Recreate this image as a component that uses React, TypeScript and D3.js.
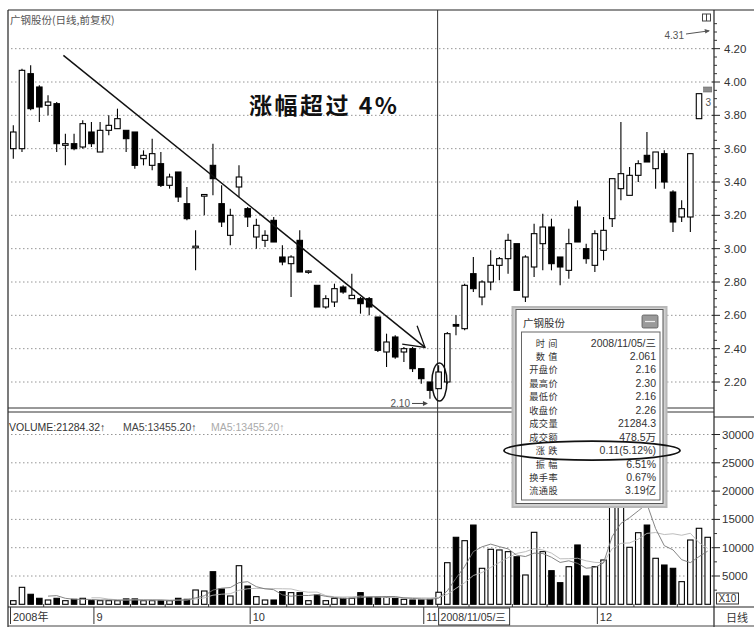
import React from 'react';
import * as d3 from 'd3';

// ---------- data ----------
const openP = [3.60, 3.60, 4.05, 3.97, 3.86, 3.87, 3.62, 3.63, 3.61, 3.70,
  3.58, 3.71, 3.72, 3.71, 3.70, 3.54, 3.50, 3.51, 3.38, 3.46,
  3.27, 3.005, 3.315, 3.50, 3.27, 3.08, 3.37, 3.24, 3.07, 3.05,
  3.17, 2.95, 2.91, 3.05, 2.858, 2.78, 2.65, 2.68, 2.77, 2.70,
  2.70, 2.70, 2.59, 2.38, 2.47, 2.38, 2.40, 2.28, 2.20, 2.16,
  2.20, 2.545, 2.52, 2.85, 2.71, 2.80, 2.90, 2.94, 3.03, 2.71,
  2.89, 3.03, 3.13, 2.95, 2.87, 3.25, 3.00, 2.90, 2.99, 3.18,
  3.36, 3.32, 3.44, 3.56, 3.48, 3.57, 3.34, 3.19, 3.19, 3.78, 3.94];
const highP = [3.74, 4.08, 4.10, 3.98, 3.92, 3.88, 3.69, 3.69, 3.77, 3.76,
  3.76, 3.80, 3.84, 3.71, 3.70, 3.59, 3.66, 3.58, 3.45, 3.46,
  3.37, 3.11, 3.32, 3.63, 3.38, 3.24, 3.50, 3.25, 3.18, 3.11,
  3.19, 3.02, 2.96, 3.11, 2.87, 2.78, 2.72, 2.79, 2.78, 2.85,
  2.71, 2.71, 2.59, 2.49, 2.48, 2.41, 2.41, 2.28, 2.20, 2.30,
  2.50, 2.60, 2.79, 2.95, 2.81, 2.99, 2.95, 3.09, 3.03, 2.96,
  3.15, 3.21, 3.18, 2.95, 3.12, 3.29, 3.03, 3.11, 3.19, 3.42,
  3.76, 3.49, 3.53, 3.70, 3.58, 3.59, 3.35, 3.29, 3.57, 3.93, 3.97];
const lowP = [3.54, 3.58, 3.83, 3.76, 3.80, 3.58, 3.50, 3.59, 3.60, 3.61,
  3.58, 3.68, 3.72, 3.58, 3.48, 3.50, 3.47, 3.37, 3.36, 3.28,
  3.17, 2.87, 3.20, 3.32, 3.13, 3.02, 3.31, 3.13, 3.00, 3.01,
  3.04, 2.90, 2.71, 2.86, 2.85, 2.65, 2.64, 2.65, 2.73, 2.70,
  2.61, 2.60, 2.38, 2.29, 2.34, 2.32, 2.26, 2.19, 2.10, 2.16,
  2.19, 2.48, 2.51, 2.74, 2.66, 2.75, 2.81, 2.85, 2.75, 2.68,
  2.83, 2.87, 2.87, 2.78, 2.82, 3.04, 2.91, 2.86, 2.93, 3.13,
  3.29, 3.32, 3.40, 3.52, 3.36, 3.36, 3.10, 3.16, 3.10, 3.78, 3.94];
const closeP = [3.70, 4.07, 3.84, 3.85, 3.88, 3.63, 3.63, 3.60, 3.75, 3.63,
  3.71, 3.74, 3.78, 3.66, 3.50, 3.56, 3.57, 3.38, 3.43, 3.31,
  3.18, 3.015, 3.325, 3.42, 3.16, 3.20, 3.43, 3.19, 3.14, 3.08,
  3.04, 2.92, 2.95, 2.86, 2.866, 2.65, 2.70, 2.76, 2.74, 2.72,
  2.67, 2.65, 2.39, 2.44, 2.35, 2.40, 2.28, 2.22, 2.15, 2.26,
  2.49, 2.535, 2.78, 2.76, 2.80, 2.90, 2.94, 3.05, 2.75, 2.95,
  3.09, 3.13, 2.91, 2.89, 3.03, 3.04, 2.94, 3.09, 3.11, 3.42,
  3.45, 3.44, 3.51, 3.52, 3.58, 3.40, 3.16, 3.24, 3.57, 3.93, 3.97];
// volume in axis units (x10 hands)
const volumes = [640, 3000, 1770, 1060, 760, 1060, 640, 880, 1060, 640,
  640, 640, 640, 950, 950, 640, 640, 640, 640, 1060,
  880, 2530, 2350, 5760, 2700, 1470, 6820, 3230, 1350, 760,
  760, 2230, 2060, 2060, 640, 1640, 640, 1060, 1060, 1060,
  2060, 1240, 1240, 1240, 1060, 880, 760, 760, 880, 2128,
  7350, 11840, 11240, 14000, 6360, 9720, 9600, 9300, 8400, 5180,
  12720, 9300, 5940, 3820, 6640, 10480, 5000, 6640, 7830, 30000,
  22000, 10070, 12650, 14000, 8130, 6940, 6360, 4000, 11360, 13430, 11840];
const priceTicks = [2.2, 2.4, 2.6, 2.8, 3.0, 3.2, 3.4, 3.6, 3.8, 4.0, 4.2];
const volTicks = [5000, 10000, 15000, 20000, 25000, 30000];
const monthLabels = ['2008年', '9', '10', '11', '12'];
const monthIdx = [0, 9, 27, 47, 67];
const weekTickIdx = [4, 14, 18, 23, 32, 37, 42, 53, 58, 62, 72, 77];
const popupLabels = ['时间', '数值', '开盘价', '最高价', '最低价', '收盘价', '成交量', '成交额', '涨跌', '振幅', '换手率', '流通股'];
const popupValues = ['2008/11/05/三', '2.061', '2.16', '2.30', '2.16', '2.26', '21284.3', '478.5万', '0.11(5.12%)', '6.51%', '0.67%', '3.19亿'];
const trendLine = [{ i: 5.77, p: 4.16 }, { i: 47.43, p: 2.408 }];
const selectedIdx = 49;
const lowMarkIdx = 48;
const maxPrice = 4.31;

const FONT = "'Liberation Sans', 'Noto Sans CJK SC', sans-serif";
const CJK = "'Noto Sans CJK SC', 'Liberation Sans', sans-serif";

export default function App() {
  const W = 754, H = 627;
  const L = 8, R = 714, TOP = 10, PB = 408, VT = 412, VB = 607;
  const n = closeP.length;
  const x = d3.scaleBand<number>().domain(d3.range(n)).range([8.96, 712.04]).paddingInner(0.3).paddingOuter(0.15);
  const bw = x.bandwidth();
  const step = x.step();
  const cx = (i: number) => (x(0) as number) + bw / 2 + i * step;
  const yP = d3.scaleLinear().domain([2.2, 4.0]).range([382, 82]);
  const yV = d3.scaleLinear().domain([0, 30000]).range([604.3, 434.5]);

  const ma = (k: number) => volumes.map((_, i) => (i < k - 1 ? null : d3.mean(volumes.slice(i - k + 1, i + 1)) as number));
  const ma5 = ma(5), ma10 = ma(10);
  const lineGen = d3.line<number | null>().defined(d => d != null).x((_, i) => cx(i)).y(d => yV(d as number));

  const minorPrice = d3.range(2.15, 4.36, 0.05).filter(v => Math.abs(v * 5 - Math.round(v * 5)) > 0.01);
  const minorVol = d3.range(2500, 32500, 5000);

  // trend line + arrow head
  const tx1 = cx(trendLine[0].i), ty1 = yP(trendLine[0].p);
  const tx2 = cx(trendLine[1].i), ty2 = yP(trendLine[1].p);
  const ang = Math.atan2(ty2 - ty1, tx2 - tx1);
  const ah = 23, aw = (31 * Math.PI) / 180;
  const a1 = [tx2 - ah * Math.cos(ang - aw), ty2 - ah * Math.sin(ang - aw)];
  const a2 = [tx2 - ah * Math.cos(ang + aw), ty2 - ah * Math.sin(ang + aw)];

  const selX = cx(selectedIdx);
  const last = n - 1;
  const rowY0 = 346.5, rowStep = 13.45;

  return (
    <svg width={W} height={H} style={{ position: 'absolute', left: 0, top: 0, background: '#fff' }} fontFamily={FONT}>
      <defs>
        <clipPath id="pclip"><rect x={L} y={TOP} width={R - L} height={PB - TOP} /></clipPath>
        <clipPath id="vclip"><rect x={L} y={VT} width={R - L} height={VB - VT} /></clipPath>
      </defs>
      <rect width={W} height={H} fill="#fff" />

      {/* grid lines */}
      {priceTicks.map(p => (
        <line key={'pg' + p} x1={L + 3} x2={R} y1={yP(p)} y2={yP(p)} stroke="#8a8a8a" strokeDasharray="1.5 2.5" strokeWidth={0.9} />
      ))}
      {volTicks.map(v => (
        <line key={'vg' + v} x1={L + 3} x2={R} y1={yV(v)} y2={yV(v)} stroke="#8a8a8a" strokeDasharray="1.5 2.5" strokeWidth={0.9} />
      ))}

      {/* frame */}
      <line x1={L} x2={W} y1={TOP} y2={TOP} stroke="#222" strokeWidth={1.2} />
      <line x1={L} x2={L} y1={TOP} y2={H} stroke="#222" strokeWidth={1.2} />
      <line x1={R} x2={R} y1={TOP} y2={H} stroke="#222" strokeWidth={1.2} />
      <line x1={L} x2={R} y1={PB} y2={PB} stroke="#333" strokeWidth={1} />
      <line x1={L} x2={R} y1={VT} y2={VT} stroke="#333" strokeWidth={1} />
      <line x1={R} x2={W} y1={417} y2={417} stroke="#222" strokeWidth={1.2} />
      <line x1={L} x2={W} y1={VB} y2={VB} stroke="#222" strokeWidth={1.2} />
      <line x1={L} x2={W} y1={H - 1} y2={H - 1} stroke="#444" strokeWidth={1} />

      {/* crosshair */}
      <line x1={selX - 1} x2={selX - 1} y1={TOP} y2={VB} stroke="#333" strokeWidth={1} />

      {/* candles */}
      <g clipPath="url(#pclip)">
        {d3.range(n).map(i => {
          const o = openP[i], c = closeP[i], h = highP[i], l = lowP[i];
          const up = c >= o;
          const top = yP(Math.max(o, c)), bot = yP(Math.min(o, c));
          const bodyH = Math.max(1.2, bot - top);
          const xc = cx(i);
          if (i === last) {
            return <rect key={i} x={xc - bw / 2 - 1} y={top} width={bw + 2} height={bodyH} fill="#8d8d8d" stroke="#666" strokeWidth={0.6} />;
          }
          return (
            <g key={i}>
              <line x1={xc} x2={xc} y1={yP(h)} y2={top} stroke="#000" strokeWidth={1.1} />
              <line x1={xc} x2={xc} y1={bot} y2={yP(l)} stroke="#000" strokeWidth={1.1} />
              <rect x={xc - bw / 2 + 0.3} y={top} width={bw - 0.6} height={bodyH} fill={up ? '#fff' : '#000'} stroke="#000" strokeWidth={1.1} />
            </g>
          );
        })}
        <text x={cx(last) + 0.5} y={yP(3.855)} fontSize={10} fill="#555" textAnchor="middle">3</text>
      </g>

      {/* trend line */}
      <line x1={tx1} y1={ty1} x2={tx2} y2={ty2} stroke="#111" strokeWidth={1.5} />
      <polyline points={`${a1[0]},${a1[1]} ${tx2},${ty2} ${a2[0]},${a2[1]}`} fill="none" stroke="#111" strokeWidth={1.3} />

      {/* ellipse around selected candle */}
      <ellipse cx={selX + 0.8} cy={(yP(highP[selectedIdx]) + yP(lowP[lowMarkIdx])) / 2} rx={7.5} ry={19} fill="none" stroke="#111" strokeWidth={1.5} />

      {/* low annotation */}
      <text x={410} y={yP(lowP[lowMarkIdx]) + 8.5} fontSize={10} fill="#555" textAnchor="end">2.10</text>
      <line x1={412} x2={cx(lowMarkIdx) - 3} y1={yP(lowP[lowMarkIdx]) + 4.8} y2={yP(lowP[lowMarkIdx]) + 4.8} stroke="#444" strokeWidth={1} />
      <path d={`M${cx(lowMarkIdx) - 2},${yP(lowP[lowMarkIdx]) + 4.8} l-5,-2.5 l0,5 z`} fill="#444" />

      {/* max annotation */}
      <text x={684} y={39} fontSize={10} fill="#555" textAnchor="end">{maxPrice.toFixed(2)}</text>
      <line x1={686} y1={34} x2={709} y2={yP(maxPrice) + 0.5} stroke="#555" strokeWidth={1} />
      <path d={`M${710},${yP(maxPrice) + 0.3} l-5.5,-1.6 l0.9,4.4 z`} fill="#555" />
      <rect x={702.5} y={14} width={8} height={7} fill="#fff" stroke="#444" strokeWidth={1} />
      <line x1={706.5} x2={706.5} y1={14} y2={21} stroke="#444" strokeWidth={1} />

      {/* title & big text */}
      <text x={10} y={23.5} fontSize={10.5} fill="#555" fontFamily={CJK}>广钢股份(日线,前复权)</text>
      <text x={249} y={114} fontSize={23} fontWeight="bold" fill="#111" fontFamily={CJK} letterSpacing={2.5}>涨幅超过 4%</text>

      {/* volume bars */}
      <g clipPath="url(#vclip)">
        {volumes.map((v, i) => {
          const up = closeP[i] >= openP[i];
          const xc = cx(i);
          return <rect key={'v' + i} x={xc - bw / 2 + 0.3} y={yV(v)} width={bw - 0.6} height={yV(0) - yV(v)} fill={up ? '#fff' : '#000'} stroke="#000" strokeWidth={1.1} />;
        })}
        <path d={lineGen(ma10) || ''} fill="none" stroke="#b5b5b5" strokeWidth={0.9} />
        <path d={lineGen(ma5) || ''} fill="none" stroke="#777" strokeWidth={0.9} />
      </g>

      {/* volume header */}
      <text x={9} y={431} fontSize={10.5} fill="#333">VOLUME:21284.32↑</text>
      <text x={123} y={431} fontSize={10.5} fill="#444">MA5:13455.20↑</text>
      <text x={211} y={431} fontSize={10.5} fill="#aaa">MA5:13455.20↑</text>

      {/* price axis */}
      {priceTicks.map(p => (
        <g key={'pt' + p}>
          <line x1={R - 2} x2={R + 6} y1={yP(p)} y2={yP(p)} stroke="#222" strokeWidth={1} />
          <text x={724} y={yP(p) + 4} fontSize={11.5} fill="#333">{p.toFixed(2)}</text>
        </g>
      ))}
      {minorPrice.map(p => (
        <line key={'pm' + p} x1={R} x2={R + 3} y1={yP(p)} y2={yP(p)} stroke="#333" strokeWidth={1} />
      ))}

      {/* volume axis */}
      {volTicks.map(v => (
        <g key={'vt' + v}>
          <line x1={R - 2} x2={R + 6} y1={yV(v)} y2={yV(v)} stroke="#222" strokeWidth={1} />
          <text x={722} y={yV(v) + 4} fontSize={11.5} fill="#333">{v}</text>
        </g>
      ))}
      {minorVol.map(v => (
        <line key={'vm' + v} x1={R} x2={R + 3} y1={yV(v)} y2={yV(v)} stroke="#333" strokeWidth={1} />
      ))}
      <rect x={716.5} y={593} width={22} height={11} fill="#fff" stroke="#333" strokeWidth={1} />
      <text x={718.5} y={602} fontSize={10} fill="#333">X10</text>
      <text x={726} y={621.5} fontSize={11} fill="#333" fontFamily={CJK}>日线</text>

      {/* date axis */}
      {weekTickIdx.map(i => (
        <line key={'wt' + i} x1={cx(i) - step / 2} x2={cx(i) - step / 2} y1={VB - 3} y2={VB} stroke="#333" strokeWidth={1} />
      ))}
      {monthLabels.map((m, k) => {
        const sx = k === 0 ? L + 2.5 : cx(monthIdx[k]) + 2.5;
        return (
          <g key={'m' + m}>
            <line x1={sx} x2={sx} y1={VB} y2={VB + 17} stroke="#333" strokeWidth={1} />
            <text x={sx + 2.5} y={621} fontSize={11} fill="#333" fontFamily={FONT}>{m}</text>
          </g>
        );
      })}
      <rect x={selX} y={VB + 1} width={71} height={17} fill="#fff" stroke="#333" strokeWidth={1} />
      <text x={selX + 2} y={621} fontSize={10.5} fill="#333">{popupValues[0]}</text>

      {/* popup */}
      <g>
        <rect x={511.5} y={306} width={156} height={202} fill="#b8b8b8" />
        <rect x={513.5} y={308} width={152} height={198} fill="#d0d0d0" />
        <rect x={516} y={309.5} width={147} height={194} fill="#fff" stroke="#555" strokeWidth={1} />
        <text x={523} y={327} fontSize={10.5} fill="#333" fontFamily={CJK}>广钢股份</text>
        <rect x={642} y={315} width={16} height={13} rx={1.5} fill="#9a9a9a" stroke="#555" strokeWidth={0.8} />
        <line x1={645} x2={655} y1={321.5} y2={321.5} stroke="#eee" strokeWidth={1.2} />
        <rect x={521.5} y={332} width={138.5} height={168} fill="#fff" stroke="#666" strokeWidth={1} />
        {popupLabels.map((lb, k) => (
          <text key={'pl' + k} x={lb.length === 2 ? 561 : 558} y={rowY0 + k * rowStep} fontSize={9.2} fill="#333" fontFamily={CJK}
            textAnchor="end" letterSpacing={lb.length === 2 ? 3.5 : 0.4}>{lb}</text>
        ))}
        {popupValues.map((v, k) => (
          <text key={'pv' + k} x={656} y={rowY0 + k * rowStep} fontSize={10.5} fill="#333" textAnchor="end" fontFamily={FONT}>{v}</text>
        ))}
      </g>
      <ellipse cx={592} cy={rowY0 + 8 * rowStep - 3.5} rx={88} ry={9.5} fill="none" stroke="#111" strokeWidth={1.8} />
    </svg>
  );
}
